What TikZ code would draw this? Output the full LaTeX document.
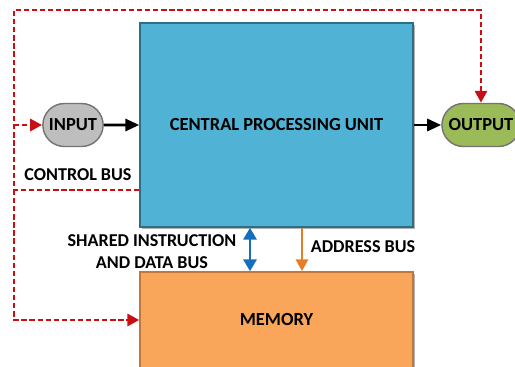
\documentclass[tikz,border=0pt]{standalone}
\usepackage{fontspec}
\setmainfont{Carlito}
\usepackage{tikz}
\usetikzlibrary{positioning,shapes.misc,arrows.meta,shadows}
\definecolor{cpublue}{RGB}{80,178,212}
\definecolor{cpuline}{RGB}{45,110,135}
\definecolor{memorange}{RGB}{250,166,90}
\definecolor{memline}{RGB}{190,120,60}
\definecolor{iogrey}{RGB}{190,190,190}
\definecolor{iogreen}{RGB}{155,187,89}
\definecolor{ctrlred}{RGB}{200,16,20}
\definecolor{busblue}{RGB}{20,110,190}
\definecolor{busorange}{RGB}{230,125,40}
\tikzstyle{unit} = [draw, line width=0.8pt, drop shadow={shadow xshift=1.2pt, shadow yshift=-1.2pt, opacity=0.6}, font=\bfseries\fontsize{10.5}{12}\selectfont]
\tikzstyle{io} = [rounded rectangle, draw, line width=0.8pt, minimum width=1.44cm, minimum height=0.86cm, font=\bfseries\fontsize{10.5}{12}\selectfont]
\tikzstyle{lbl} = [font=\bfseries\fontsize{10.3}{12.5}\selectfont, align=center]
\tikzstyle{flow} = [line width=1.7pt, -{Triangle[length=2.8mm,width=2.4mm]}]
\tikzstyle{ctrl} = [ctrlred, line width=1.7pt, dash pattern=on 3pt off 1.6pt, -{Triangle[length=2.4mm,width=2.4mm]}]

\begin{document}
\begin{tikzpicture}[x=0.02cm, y=-0.02cm]
			\useasboundingbox (0,0) rectangle (515,366);
			\node[unit, fill=cpublue, draw=cpuline, minimum width=5.46cm, minimum height=4.08cm] (cpu) at (276.5,125) {CENTRAL PROCESSING UNIT};
			\node[unit, fill=memorange, draw=memline, minimum width=5.46cm, minimum height=1.92cm] (mem) at (276.5,320) {MEMORY};
			\node[io, fill=iogrey, draw=black!55] (input) at (73,125) {INPUT};
			\node[io, fill=iogreen, draw=black!55] (output) at (481,125) {OUTPUT};
			\node[lbl] (ctrllbl) at (78,175) {CONTROL BUS};
			\node[lbl] (shared) at (152,252) {SHARED INSTRUCTION\\AND DATA BUS};
			\node[lbl] (addr) at (363,247) {ADDRESS BUS};
			\coordinate (cb) at (14,190);
			\coordinate (top) at (14,10);
			\coordinate (d) at (250,0);
			\coordinate (a) at (302,0);
			\draw[flow] (input) -- (cpu);
			\draw[flow] (cpu) -- (output);
			\draw[line width=1.7pt, busblue, {Triangle[length=2.4mm,width=2.6mm]}-{Triangle[length=2.4mm,width=2.6mm]}] (d |- cpu.south) -- (d |- mem.north);
			\draw[line width=1.7pt, busorange, -{Triangle[length=2.4mm,width=2.4mm]}] (a |- cpu.south) -- (a |- mem.north);
			\draw[ctrl] (cb -| cpu.west) -- (cb) -- (top) -| (output.north);
			\draw[ctrl] (cb) |- (mem.west);
			\draw[ctrl] (input.west -| cb) -- (input.west);
		\end{tikzpicture}
\end{document}
